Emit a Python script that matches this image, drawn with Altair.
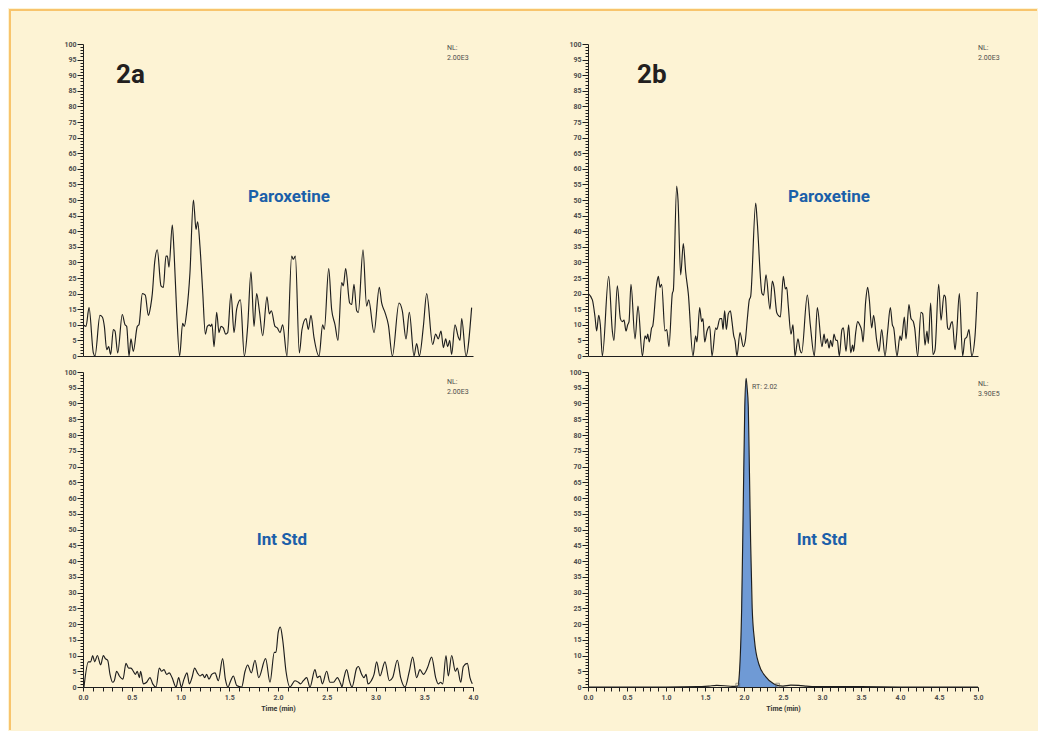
import altair as alt
import pandas as pd

# ---------------- data ----------------
# 2a / Paroxetine (relative abundance vs time, min)
tl_t = [0.00,0.031,0.062,0.106,0.123,0.174,0.198,0.219,0.243,0.263,
        0.284,0.311,0.328,0.356,0.403,0.431,0.448,0.472,0.492,0.516,
        0.557,0.574,0.609,0.639,0.670,0.694,0.711,0.735,0.762,0.800,
        0.824,0.851,0.865,0.882,0.916,0.933,0.961,0.991,1.022,1.039,
        1.063,1.097,1.132,1.142,1.159,1.176,1.200,1.227,1.255,1.275,
        1.296,1.309,1.323,1.344,1.371,1.395,1.415,1.439,1.463,1.484,
        1.518,1.549,1.576,1.614,1.655,1.689,1.723,1.754,1.781,1.809,
        1.843,1.887,1.911,1.932,1.969,1.993,2.021,2.048,2.092,2.140,
        2.157,2.178,2.219,2.246,2.287,2.311,2.338,2.369,2.421,2.458,
        2.475,2.520,2.550,2.585,2.615,2.653,2.670,2.694,2.735,2.756,
        2.779,2.807,2.824,2.872,2.909,2.930,2.985,3.039,3.063,3.097,
        3.132,3.173,3.241,3.275,3.313,3.347,3.395,3.422,3.450,3.491,
        3.525,3.586,3.617,3.644,3.672,3.696,3.720,3.740,3.761,3.781,
        3.815,3.850,3.867,3.884,3.928,3.986]
tl_v = [10,9.5,15.5,1,0,13,12.5,9.5,2,3,
        0.5,8.5,8,1,13.3,10,9.5,0,5.5,1.5,
        9.5,10,20,19.5,13,16,20,30,34,22.5,
        22,32,32,28.5,42,34,14,0,10.5,9.5,
        14,26.7,50,47,40.6,43,35,21,7,9.5,
        10,9.5,10.2,3,14,7.5,9.5,9,7,7.5,
        20,7.5,15,18,0,9.5,27,9.5,20,14.5,
        6.5,19,13.5,14.5,9.5,9,7.5,10,0,32,
        31,32,1,8.5,12,8.5,13,6,0,10,
        8.5,28,15,10,5,23.5,22.5,28,17,16.5,
        23,14.5,14,34,16,18,7.5,22,17,14,
        10,0,17,14.5,5.5,14,0,4,0,9.5,
        20,3.7,7,5.5,8,2.7,5.5,3,5,0.5,
        10,6,5,12,0,15.5]

# 2b / Paroxetine
tr_t = [0.004,0.056,0.090,0.111,0.137,0.158,0.184,0.265,0.312,0.333,
        0.376,0.415,0.440,0.462,0.487,0.509,0.526,0.551,0.603,0.641,
        0.697,0.731,0.752,0.765,0.786,0.816,0.829,0.880,0.902,0.923,
        0.944,0.987,1.009,1.038,1.081,1.094,1.137,1.154,1.188,1.222,
        1.252,1.286,1.346,1.380,1.397,1.432,1.457,1.474,1.496,1.526,
        1.560,1.590,1.637,1.650,1.692,1.714,1.731,1.752,1.774,1.799,
        1.825,1.846,1.868,1.885,1.910,1.949,1.991,2.017,2.043,2.068,
        2.085,2.150,2.167,2.231,2.252,2.282,2.333,2.363,2.385,2.419,
        2.440,2.466,2.504,2.530,2.547,2.568,2.603,2.628,2.654,2.692,
        2.718,2.739,2.812,2.850,2.902,2.940,3.000,3.026,3.047,3.068,
        3.090,3.111,3.132,3.154,3.179,3.197,3.222,3.256,3.274,3.308,
        3.342,3.368,3.393,3.406,3.432,3.457,3.483,3.509,3.526,3.560,
        3.585,3.607,3.637,3.662,3.701,3.731,3.765,3.808,3.842,3.876,
        3.902,3.919,3.962,4.000,4.017,4.030,4.056,4.077,4.115,4.141,
        4.171,4.188,4.226,4.269,4.291,4.321,4.346,4.363,4.393,4.423,
        4.449,4.496,4.526,4.564,4.581,4.611,4.632,4.654,4.671,4.705,
        4.726,4.761,4.803,4.833,4.855,4.885,4.919,4.962,4.991]
tr_v = [20,18,12.5,8,13,10,0,25.5,8,5,
        22.5,12,11,11.5,8,10,11,23,5.5,16,
        0,6.5,5.5,7,4.5,9,9.5,23,25.5,22,
        23,8,8.5,3,20,21,54.5,50,26,36,
        27,20,0,6.5,4.5,15.5,11,12,4.5,8,
        9.5,0,9,8.5,12,12,8.5,14.5,8.5,13.5,
        14.5,11,6.5,5,0,7.5,3,5,12,18,
        19,49,44,20,19.5,26,15,24,22,14,
        13,12.5,25.5,21.5,22,16,7,10,0,5.5,
        2,1,19.5,10,0,15.5,3,7,4,5.5,
        2.5,5,3,7,5,5,0,8.5,9,1.5,
        10,1,3.5,1.5,7.5,11,10,8,4.5,17.5,
        22,18,9,13,5,1.5,8.5,0,8,15.5,
        10,9,0,6.5,5,7,12.5,5.5,16.5,12,
        11,9,0,14,13.5,3.5,8,4,17,0.5,
        2,23,11.5,19.5,19,9,8.5,10.5,11,2,
        7,20,0,5.5,6,8.5,0,6.5,20.5]

# 2a / Int Std
bl_t = [0.010,0.055,0.079,0.099,0.120,0.147,0.181,0.209,0.229,0.253,
        0.277,0.304,0.321,0.345,0.373,0.410,0.441,0.468,0.492,0.516,
        0.537,0.557,0.578,0.591,0.619,0.653,0.687,0.715,0.749,0.783,
        0.807,0.831,0.858,0.885,0.913,0.954,0.981,1.009,1.036,1.067,
        1.091,1.118,1.145,1.173,1.200,1.227,1.248,1.268,1.292,1.320,
        1.354,1.388,1.432,1.460,1.487,1.515,1.542,1.576,1.627,1.662,
        1.689,1.726,1.764,1.802,1.873,1.918,1.962,1.979,2.003,2.024,
        2.048,2.082,2.123,2.174,2.209,2.232,2.260,2.294,2.328,2.379,
        2.403,2.431,2.455,2.499,2.533,2.568,2.609,2.643,2.656,2.677,
        2.704,2.732,2.759,2.807,2.824,2.858,2.882,2.903,2.923,2.957,
        2.985,3.012,3.046,3.097,3.142,3.176,3.224,3.258,3.303,3.347,
        3.381,3.422,3.456,3.491,3.532,3.576,3.617,3.644,3.668,3.689,
        3.723,3.747,3.781,3.819,3.839,3.874,3.901,3.942,3.969,3.993]
bl_v = [0,8,8,10,8,10,7,10,9,8.5,
        4,1.5,2,5,3.5,2.5,7.5,6,6,5,
        4,5,3,5,1,1.5,3,1,0,6,
        5,5.5,4,4.5,3,0,3,0,2.5,4.5,
        1,3,6,4.5,3.5,4,3,4,2.5,4,
        4.5,2,9,2.5,0,2,3.5,0.5,0,5,
        7,4.5,8.5,3,9,1.5,11,11,17.5,19,
        15,5,0,2,1.5,1,2,3,0,5.5,
        3,3.5,1,5,1.5,1.5,3,1,0,3,
        5.5,2,0,6,6.5,4,3,4,1,2,
        4,8,3.5,8,2,3,8.5,3,0,5,
        9.5,3,5.5,4,6,9.5,3,1,1.5,1,
        10,3.5,10,5,6,1.5,6.5,7.5,3,1]

# 2b / Int Std (single peak, RT 2.02)
br_t = [0.0,0.5,1.0,1.4,1.55,1.65,1.75,1.85,1.92,1.94,1.97,1.99,2.01,2.027,2.04,
        2.055,2.07,2.085,2.105,2.135,2.19,2.28,2.38,2.43,2.5,2.6,2.7,2.8,2.9,3.5,4.0,4.5,5.0]
br_v = [0,0,0,0.1,0.3,0.5,0.4,0.2,0.3,4,25,57,89,98,95,
        89,68,46,25,14.7,7.3,3.2,1,0.5,0.3,0.6,0.5,0.3,0.1,0.1,0,0,0]
peak_bounds = [1.92, 2.43]

panel_tags = ["2a", "2b"]
compounds = ["Paroxetine", "Int Std"]
nl_values = ["2.00E3", "2.00E3", "2.00E3", "3.90E5"]
rt_value = "2.02"
x_max = [4.0, 5.0]

# ---------------- style ----------------
BG = "#fdf3d4"
BORDER = "#f8c46c"
INK = "#1e1e1e"
BLUE = "#1b5fa9"
FILL = "#6f9ad5"
LABEL = "#4d4d4d"
FONT = "Roboto, Liberation Sans, sans-serif"


def y_axis():
    return alt.Axis(
        values=list(range(0, 101)),
        labelExpr="datum.value % 5 == 0 ? datum.label : ''",
        tickSize={"condition": {"test": "datum.value % 5 == 0", "value": 6}, "value": 3},
        labelFontSize=7, labelColor=LABEL, labelFont=FONT, labelFontWeight="bold",
        labelPadding=1, labelOverlap=False, labelFlush=False, domainColor=INK, tickColor=INK,
        tickWidth=1, grid=False, title=None)


def x_axis(xmax, bottom):
    if not bottom:
        return alt.Axis(labels=False, ticks=False, title=None, domainColor=INK, grid=False)
    vals = [i / 10 for i in range(int(round(xmax * 10)) + 1)]
    return alt.Axis(
        values=vals,
        labelExpr="abs(datum.value * 2 - round(datum.value * 2)) < 0.001 ? format(datum.value, '.1f') : ''",
        tickSize=4, labelFontSize=7, labelColor=LABEL, labelFont=FONT, labelFontWeight="bold",
        labelPadding=2, labelOverlap=False, labelFlush=False, domainColor=INK, tickColor=INK,
        grid=False, title="Time (min)", titleFontSize=7, titleFont=FONT, titleFontWeight="bold",
        titleColor="#333", titlePadding=4)


def enc_x(xmax, bottom):
    return alt.X("t:Q", scale=alt.Scale(domain=[0, xmax], nice=False, zero=False),
                 axis=x_axis(xmax, bottom))


def enc_y():
    return alt.Y("v:Q", scale=alt.Scale(domain=[0, 100], nice=False), axis=y_axis())


def text_layer(txt, x, y, size, color, align="center", weight="bold", lh=9.5):
    return alt.Chart(pd.DataFrame({"s": [txt]})).mark_text(
        align=align, baseline="alphabetic", fontSize=size, fontWeight=weight,
        color=color, font=FONT, lineBreak="\n", lineHeight=lh
    ).encode(text="s:N", x=alt.value(x), y=alt.value(y))


def trace(t, v, xmax, height, bottom):
    df = pd.DataFrame({"t": t, "v": v})
    return alt.Chart(df).mark_line(color=INK, strokeWidth=1.15, interpolate="monotone").encode(
        x=enc_x(xmax, bottom), y=enc_y()
    ).properties(width=390, height=height)


one = pd.DataFrame({"k": [0]})
left_border = alt.Chart(one).mark_rule(color=BORDER, strokeWidth=2).encode(
    x=alt.value(-73), y=alt.value(-35), y2=alt.value(686))
top_border = alt.Chart(one).mark_rule(color=BORDER, strokeWidth=2).encode(
    x=alt.value(-74), x2=alt.value(954), y=alt.value(-34))

tl = alt.layer(
    left_border, top_border,
    trace(tl_t, tl_v, x_max[0], 312, False),
    text_layer(panel_tags[0], 33, 39, 26, "#231f20", align="left"),
    text_layer(compounds[0], 206, 158, 17, BLUE),
    text_layer("NL:\n" + nl_values[0], 364, 6, 7, LABEL, align="left", weight="normal"),
)

tr = alt.layer(
    trace(tr_t, tr_v, x_max[1], 312, False),
    text_layer(panel_tags[1], 49, 39, 26, "#231f20", align="left"),
    text_layer(compounds[0], 241, 158, 17, BLUE),
    text_layer("NL:\n" + nl_values[1], 390, 6, 7, LABEL, align="left", weight="normal"),
)

bl = alt.layer(
    trace(bl_t, bl_v, x_max[0], 315, True),
    text_layer(compounds[1], 199, 173, 17, BLUE),
    text_layer("NL:\n" + nl_values[2], 364, 12, 7, LABEL, align="left", weight="normal"),
)

br_df = pd.DataFrame({"t": br_t, "v": br_v})
bx = enc_x(x_max[1], True)
by = enc_y()
br_area = alt.Chart(br_df).transform_filter(
    (alt.datum.t >= peak_bounds[0]) & (alt.datum.t <= peak_bounds[1])
).mark_area(color=FILL, interpolate="monotone", opacity=1).encode(x=bx, y=by)
br_line = alt.Chart(br_df).mark_line(
    color=INK, strokeWidth=1.15, interpolate="monotone").encode(x=bx, y=by)
br_marks = alt.Chart(pd.DataFrame({"t": peak_bounds, "v": [0.6, 0.6]})).mark_point(
    shape="square", size=14, filled=False, color="#555", strokeWidth=0.8
).encode(x=bx, y=by)

br = alt.layer(
    br_area, br_line, br_marks,
    text_layer("RT: " + rt_value, 164, 17, 7, LABEL, align="left", weight="normal"),
    text_layer(compounds[1], 234, 173, 17, BLUE),
    text_layer("NL:\n" + nl_values[3], 390, 14, 7, LABEL, align="left", weight="normal"),
).properties(width=390, height=315)

chart = alt.concat(
    tl, tr, bl, br, columns=2, spacing={"row": 16, "column": 115}, bounds="flush"
).properties(
    padding={"left": 0, "top": 0, "right": 0, "bottom": 0}
).configure(background=BG).configure_view(stroke=None)

chart.save("out.html", embed_options={"renderer": "svg", "actions": False})
